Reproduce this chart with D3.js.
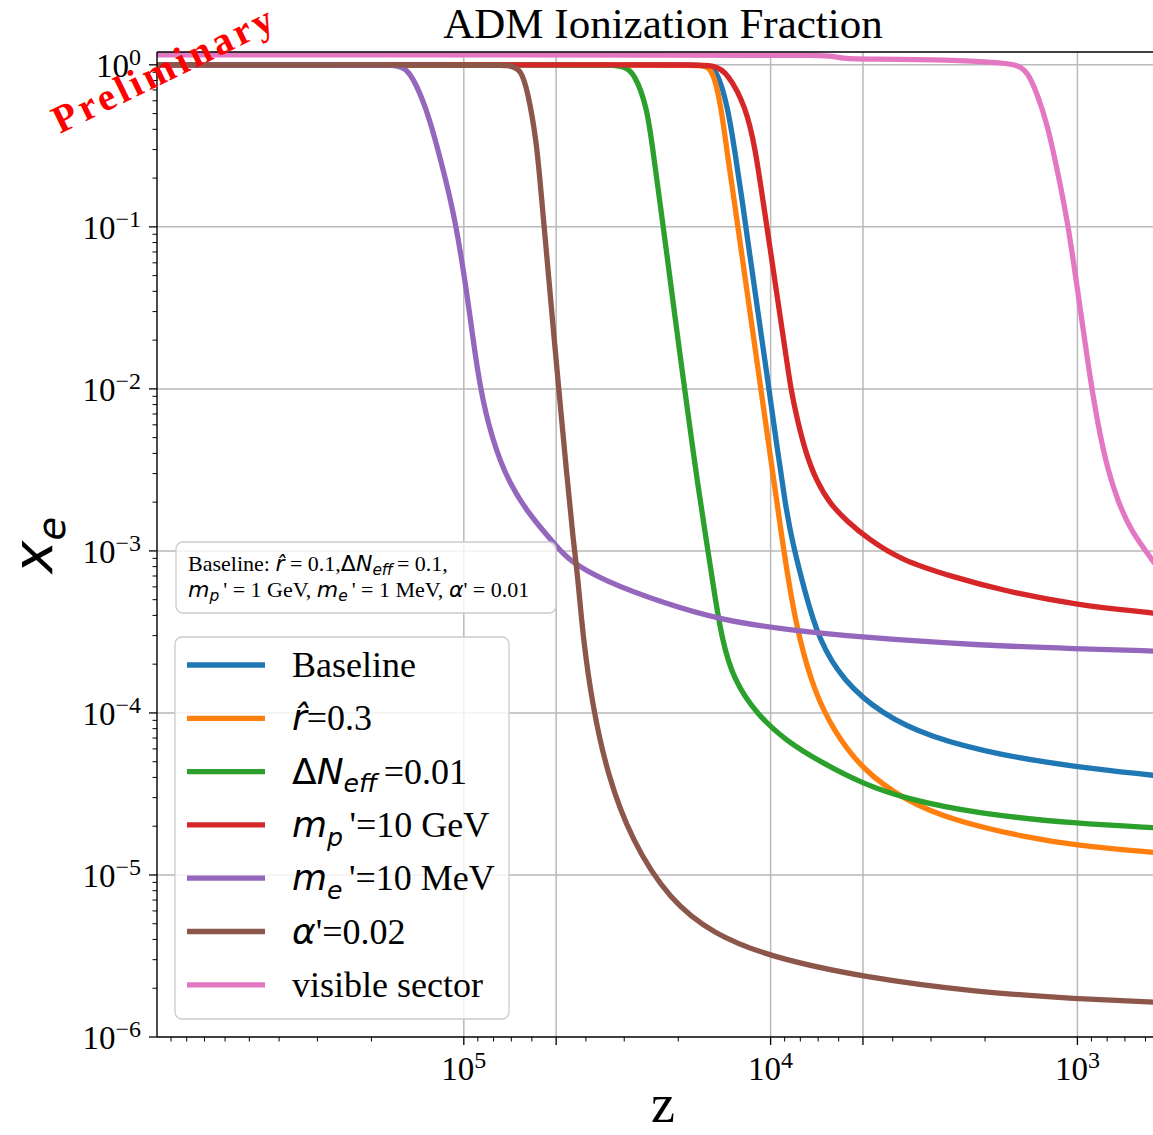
<!DOCTYPE html>
<html lang="en">
<head>
<meta charset="utf-8">
<script src="https://d3js.org/d3.v7.min.js"></script>
<title>ADM Ionization Fraction</title>
<style>
  body { margin: 0; background: #fff; }
  svg { display: block; overflow: hidden; }
  text { white-space: pre; }
  .serif { font-family: "Liberation Serif", "Times New Roman", serif; font-style: normal; }
  .math { font-family: "DejaVu Sans", sans-serif; font-style: italic; }
  .mathup { font-family: "DejaVu Sans", sans-serif; font-style: normal; }
</style>
</head>
<body>
<div id="chart"></div>
<script>
// [z, x_e]
const baseline = [[1e6,1],[2.0e4,1],[1.59e4,1],[1.49e4,0.909],[1.38e4,0.553],[1.31e4,0.2985],[1.238e4,0.1466],[1.171e4,0.0687],
  [1.106e4,0.0321],[1.029e4,0.01247],[9.60e3,4.83e-3],[8.93e3,1.87e-3],[8.52e3,1.164e-3],[7.76e3,5.72e-4],[6.96e3,2.81e-4],
  [5.82e3,1.59e-4],[4.36e3,9.9e-5],[3.04e3,7.1e-5],[1.77e3,5.47e-5],[1000,4.63e-5],[562,4.12e-5],[530,4.06e-5]];
const rHat03 = [[1e6,1],[2.1e4,1],[1.65e4,1],[1.54e4,0.931],[1.45e4,0.553],[1.39e4,0.2985],[1.315e4,0.1466],[1.243e4,0.0687],
  [1.174e4,0.0321],[1.094e4,0.01247],[1.019e4,4.83e-3],[9.49e3,1.87e-3],[9.16e3,1.164e-3],[8.65e3,5.72e-4],[8.05e3,2.81e-4],
  [7.22e3,1.38e-4],[6.25e3,7.81e-5],[5.0e3,4.42e-5],[3.64e3,2.88e-5],[2.54e3,2.17e-5],[1.48e3,1.71e-5],[1000,1.52e-5],
  [562,1.38e-5],[530,1.36e-5]];
const dNeff001 = [[1e6,1],[4.2e4,1],[3.32e4,1],[3.00e4,0.976],[2.78e4,0.889],[2.53e4,0.553],[2.42e4,0.2985],[2.30e4,0.1466],
  [2.18e4,0.0687],[2.07e4,0.0321],[1.95e4,0.01369],[1.84e4,6.12e-3],[1.73e4,2.61e-3],[1.62e4,1.164e-3],[1.53e4,5.72e-4],
  [1.44e4,2.81e-4],[1.317e4,1.59e-4],[1.113e4,9.9e-5],[8.97e3,6.77e-5],[6.72e3,4.86e-5],[5.0e3,3.66e-5],[3.65e3,2.96e-5],
  [2.12e3,2.39e-5],[1000,2.07e-5],[562,1.96e-5],[530,1.95e-5]];
const mp10 = [[1e6,1],[1.9e4,1],[1.52e4,1],[1.38e4,0.889],[1.204e4,0.553],[1.120e4,0.2985],[1.060e4,0.1466],[9.98e3,0.0687],
  [9.41e3,0.0321],[8.93e3,0.01657],[8.59e3,9.93e-3],[8.18e3,6.42e-3],[7.73e3,4.19e-3],[7.12e3,2.73e-3],[6.36e3,1.92e-3],
  [5.64e3,1.53e-3],[4.85e3,1.20e-3],[3.76e3,8.76e-4],[2.54e3,6.91e-4],[1.77e3,5.72e-4],[1000,4.62e-4],[562,4.14e-4],[530,4.05e-4]];
const me10 = [[1e6,1],[2.2e5,1],[1.73e5,1],[1.569e5,0.972],[1.47e5,0.847],[1.33e5,0.553],[1.212e5,0.2985],[1.089e5,0.1333],
  [1.023e5,0.0687],[9.63e4,0.0321],[9.02e4,0.01252],[8.37e4,6.15e-3],[7.41e4,3.02e-3],[6.20e4,1.71e-3],[4.95e4,1.054e-3],
  [4.55e4,8.76e-4],[3.53e4,6.59e-4],[2.21e4,4.73e-4],[1.43e4,3.73e-4],[8.98e3,3.27e-4],[5.0e3,2.92e-4],[2.12e3,2.62e-4],
  [1000,2.49e-4],[562,2.41e-4],[530,2.40e-4]];
const alpha002 = [[1e6,1],[9.0e4,1],[7.0e4,1],[6.52e4,0.931],[6.20e4,0.701],[5.80e4,0.344],[5.61e4,0.169],[5.36e4,0.0654],
  [5.13e4,0.0254],[4.90e4,9.83e-3],[4.62e4,3.01e-3],[4.40e4,1.164e-3],[4.26e4,7.25e-4],[4.08e4,2.81e-4],[3.80e4,1.09e-4],
  [3.41e4,4.22e-5],[2.84e4,1.63e-5],[2.13e4,6.96e-6],[1.54e4,4.33e-6],[1.0e4,3.11e-6],[5.0e3,2.34e-6],[2.12e3,1.89e-6],
  [1000,1.72e-6],[562,1.64e-6],[530,1.63e-6]];
const visible = [[1e6,1.153],[1.2e4,1.15],[6.85e3,1.145],[6.22e3,1.128],[5.68e3,1.089],[5.08e3,1.085],[2.58e3,1.074],[1.77e3,1.029],
  [1.565e3,1.0],[1.452e3,0.904],[1.348e3,0.653],[1.250e3,0.422],[1.160e3,0.2196],[1.076e3,0.108],[998,0.0406],[925,0.01443],
  [859,6.04e-3],[796,3.15e-3],[739,2.04e-3],[669,1.32e-3],[562,8.51e-4],[530,7.2e-4]];

const seriesData = [baseline, rHat03, dNeff001, mp10, me10, alpha002, visible];
const seriesColors = ["#1f77b4","#ff7f0e","#2ca02c","#d62728","#9467bd","#8c564b","#e377c2"];
// rich-text pieces: rm = serif text, it = math italic, up = math upright, sub = subscript
const legendLabels = [
  [["Baseline","rm"]],
  [["r\u0302","it"],["=0.3","rm"]],
  [["\u0394","up"],["N","it"],["eff","sub"],["=0.01","rm"]],
  [["m","it"],["p","sub"],["'=10 GeV","rm"]],
  [["m","it"],["e","sub"],["'=10 MeV","rm"]],
  [["\u03b1","it"],["'=0.02","rm"]],
  [["visible sector","rm"]]
];
const noteLines = [
  [["Baseline: ","rm"],["r\u0302","it"],[" = 0.1,","rm"],["\u0394","up"],["N","it"],["eff","sub"],["= 0.1,","rm"]],
  [["m","it"],["p","sub"],["' = 1 GeV, ","rm"],["m","it"],["e","sub"],["' = 1 MeV, ","rm"],["\u03b1","it"],["' = 0.01","rm"]]
];
const xMajor = [1e5, 5e4, 1e4, 5e3, 1e3];
const xLabelled = [[1e5,"5"],[1e4,"4"],[1e3,"3"]];
const yMajor = [1, 1e-1, 1e-2, 1e-3, 1e-4, 1e-5, 1e-6];

const W = 1153, H = 1135;
const L = 157, T = 52, B = 1037, R = 1162;

const svg = d3.select("#chart").append("svg").attr("width", W).attr("height", H);

const x = d3.scaleLog().domain([1e6, 530]).range([L, R]);
const y = d3.scaleLog().domain([1e-6, 1.2]).range([B, T]);

// minor tick positions
const xMinor = [];
for (let k = 2; k <= 5; k++) for (let m = 2; m <= 9; m++) {
  const v = m * Math.pow(10, k);
  if (v > 530 && v < 1e6 && !xMajor.includes(v)) xMinor.push(v);
}
const yMinor = [];
for (let k = -6; k <= -1; k++) for (let m = 2; m <= 9; m++) yMinor.push(m * Math.pow(10, k));

function rich(sel, parts, size, subDrop) {
  let off = 0, prev = null;
  parts.forEach(([s, k]) => {
    let target = 0, fs = size;
    if (k === "sub") { target = size * (subDrop || 0.24); fs = size * 0.7; }
    const t = sel.append("tspan").text(s).attr("font-size", fs);
    if (target - off !== 0) t.attr("dy", target - off);
    if (prev === "sub") t.attr("dx", size * 0.18);
    off = target; prev = k;
    t.attr("class", k === "rm" ? "serif" : (k === "up" ? "mathup" : "math"));
  });
}

// grid
const grid = svg.append("g").attr("stroke", "#b9b9b9").attr("stroke-width", 1.5);
grid.selectAll("line.gy").data(yMajor.slice(0, 6)).join("line")
  .attr("x1", L).attr("x2", W).attr("y1", d => y(d)).attr("y2", d => y(d));
grid.selectAll("line.gx").data(xMajor).join("line")
  .attr("x1", d => x(d)).attr("x2", d => x(d)).attr("y1", T).attr("y2", B);

// curves
svg.append("clipPath").attr("id", "clip").append("rect")
  .attr("x", L).attr("y", T).attr("width", R - L).attr("height", B - T);
const line = d3.line().x(d => x(d[0])).y(d => y(d[1])).curve(d3.curveBasis);
svg.append("g").attr("clip-path", "url(#clip)")
  .selectAll("path").data(seriesData).join("path")
  .attr("d", line).attr("fill", "none")
  .attr("stroke", (d, i) => seriesColors[i]).attr("stroke-width", 5.3)
  .attr("stroke-linejoin", "round").attr("stroke-linecap", "butt");

// axes
const ax = svg.append("g").attr("stroke", "#000");
ax.append("line").attr("x1", L).attr("x2", W).attr("y1", T).attr("y2", T).attr("stroke-width", 1.4);
ax.append("line").attr("x1", L).attr("x2", W).attr("y1", B).attr("y2", B).attr("stroke-width", 1.4);
ax.append("line").attr("x1", L).attr("x2", L).attr("y1", T).attr("y2", B).attr("stroke-width", 1.4);
ax.selectAll("line.ym").data(yMajor).join("line")
  .attr("x1", L - 8).attr("x2", L).attr("y1", d => y(d)).attr("y2", d => y(d)).attr("stroke-width", 1.3);
ax.selectAll("line.yn").data(yMinor).join("line")
  .attr("x1", L - 4.5).attr("x2", L).attr("y1", d => y(d)).attr("y2", d => y(d)).attr("stroke-width", 1);
ax.selectAll("line.xm").data(xMajor).join("line")
  .attr("x1", d => x(d)).attr("x2", d => x(d)).attr("y1", B).attr("y2", B + 8).attr("stroke-width", 1.3);
ax.selectAll("line.xn").data(xMinor).join("line")
  .attr("x1", d => x(d)).attr("x2", d => x(d)).attr("y1", B).attr("y2", B + 4.5).attr("stroke-width", 1);

// tick labels
yMajor.forEach(v => {
  const t = svg.append("text").attr("x", L - 16).attr("y", y(v) + 12)
    .attr("text-anchor", "end").attr("class", "serif").attr("font-size", 33);
  t.append("tspan").text("10");
  const e = Math.round(Math.log10(v));
  t.append("tspan").attr("font-size", 24).attr("dy", -12).text(e === 0 ? "0" : "\u2212" + (-e));
});
xLabelled.forEach(([v, e]) => {
  const t = svg.append("text").attr("x", x(v)).attr("y", B + 43)
    .attr("text-anchor", "middle").attr("class", "serif").attr("font-size", 33);
  t.append("tspan").text("10");
  t.append("tspan").attr("font-size", 24).attr("dy", -12).text(e);
});

// axis labels and title
svg.append("text").attr("x", 663).attr("y", 38).attr("text-anchor", "middle")
  .attr("class", "serif").attr("font-size", 43).text("ADM Ionization Fraction");
svg.append("text").attr("x", 663).attr("y", 1122).attr("text-anchor", "middle")
  .attr("class", "serif").attr("font-size", 54).text("z");
const yl = svg.append("text").attr("transform", "translate(52,545) rotate(-90)")
  .attr("text-anchor", "middle");
rich(yl, [["x","it"],["e","sub"]], 55);

// parameter note
svg.append("rect").attr("x", 176).attr("y", 542).attr("width", 380).attr("height", 71)
  .attr("rx", 7).attr("fill", "#fff").attr("fill-opacity", 0.8)
  .attr("stroke", "#cccccc").attr("stroke-width", 1.3);
noteLines.forEach((parts, i) => {
  const t = svg.append("text").attr("x", 188).attr("y", 571 + i * 26);
  rich(t, parts, 22, 0.18);
});

// legend
const lg = svg.append("g");
lg.append("rect").attr("x", 175).attr("y", 637).attr("width", 334).attr("height", 382)
  .attr("rx", 7).attr("fill", "#fff").attr("fill-opacity", 0.8)
  .attr("stroke", "#cccccc").attr("stroke-width", 1.3);
legendLabels.forEach((parts, i) => {
  const cy = 665 + i * 53.3;
  lg.append("line").attr("x1", 187).attr("x2", 265).attr("y1", cy).attr("y2", cy)
    .attr("stroke", seriesColors[i]).attr("stroke-width", 5.3);
  const t = lg.append("text").attr("x", 292).attr("y", cy + 12);
  rich(t, parts, 36);
});

// watermark
svg.append("text").attr("transform", "translate(60,134) rotate(-26)")
  .attr("class", "serif").attr("font-weight", "bold").attr("font-size", 39)
  .attr("letter-spacing", 4).attr("fill", "#ff0000").text("Preliminary");
</script>
</body>
</html>
